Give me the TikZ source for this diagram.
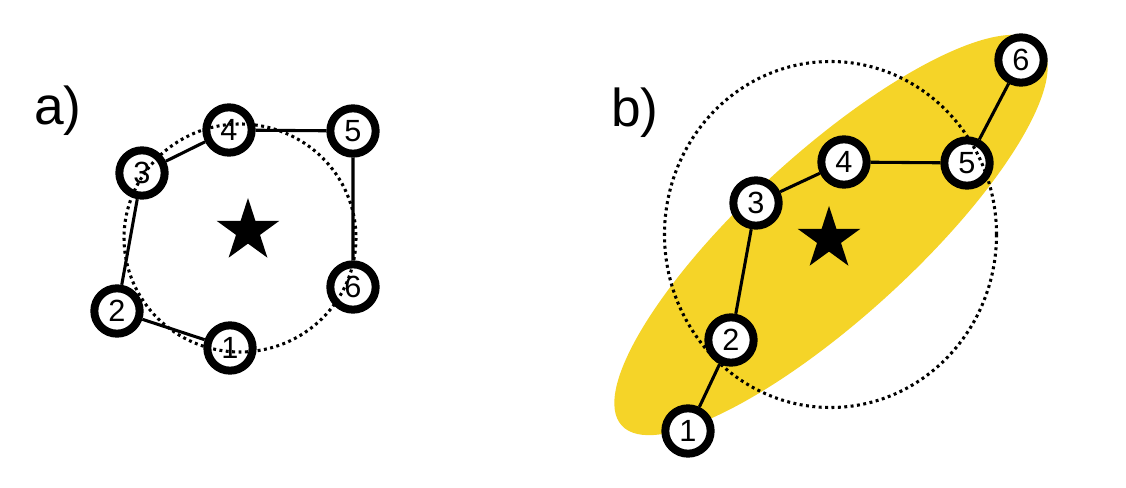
\documentclass[tikz,border=0pt]{standalone}
\usepackage{fontspec}
\setmainfont{Liberation Sans}
\usetikzlibrary{backgrounds}
\definecolor{ylw}{RGB}{245,212,40}
\tikzset{
  every picture/.style={x=0.75pt,y=-0.75pt},
  vtx/.style={circle,draw=black,fill=white,line width=6pt,minimum size=34pt,inner sep=0pt,font=\fontsize{23}{25}\selectfont},
  bond/.style={line width=2.3pt},
  dotc/.style={line width=2.3pt,dash pattern=on 2.2pt off 2.6pt},
  lbl/.style={anchor=base west,inner sep=0pt,font=\fontsize{40}{44}\selectfont}
}
\newcommand{\mystar}[1]{\fill[shift={(#1)}] (-90:33) -- (-54:12.6) -- (-18:33) -- (18:12.6) -- (54:33) -- (90:12.6) -- (126:33) -- (162:12.6) -- (198:33) -- (234:12.6) -- cycle;}
\begin{document}
\begin{tikzpicture}
\useasboundingbox (0,0) rectangle (1126,488);
% labels
\node[lbl] (la) at (34,125) {a)};
\node[lbl] (lb) at (611,127) {b)};
% panel a
\coordinate (ca) at (240,238);
\coordinate (sa) at (248,231);
\node[vtx] (a1) at (230,348) {1};
\node[vtx] (a2) at (117,311) {2};
\node[vtx] (a3) at (142,173) {3};
\node[vtx] (a4) at (229,130) {4};
\node[vtx] (a5) at (353,131) {5};
\node[vtx] (a6) at (353,287) {6};
% panel b
\coordinate (cb) at (830.5,234.5);
\coordinate (sb) at (829,239);
\node[vtx] (b1) at (688,431) {1};
\node[vtx] (b2) at (731,340) {2};
\node[vtx] (b3) at (756,203) {3};
\node[vtx] (b4) at (844,162) {4};
\node[vtx] (b5) at (967,163) {5};
\node[vtx] (b6) at (1021,60) {6};
\begin{pgfonlayer}{background}
  \fill[ylw,shift={(831,235)},rotate=42.3] (0,0) ellipse[x radius=283, y radius=83];
  \draw[bond] (a1) -- (a2) -- (a3) -- (a4) -- (a5) -- (a6);
  \draw[bond] (b1) -- (b2) -- (b3) -- (b4) -- (b5) -- (b6);
\end{pgfonlayer}
\draw[dotc] (ca) ellipse[x radius=116, y radius=114];
\draw[dotc] (cb) ellipse[x radius=166, y radius=173];
\mystar{sa}
\mystar{sb}
\end{tikzpicture}
\end{document}
